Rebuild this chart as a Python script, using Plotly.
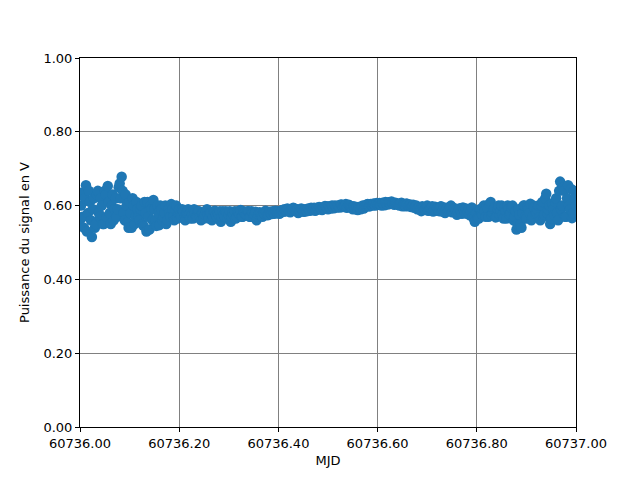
import plotly.graph_objects as go

mjd_start = 60736.0
step = 0.004
# readings on the main grid (every 0.004 d)
power_v = [
    0.56, 0.635, 0.54, 0.655, 0.58, 0.61, 0.515, 0.62, 0.55, 0.64,
    0.57, 0.60, 0.55, 0.63, 0.653, 0.58, 0.60, 0.56, 0.62, 0.59,
    0.66, 0.678, 0.58, 0.63, 0.555, 0.61, 0.54, 0.60, 0.57, 0.59,
    0.56, 0.60, 0.545, 0.58, 0.61, 0.535, 0.59, 0.615, 0.56, 0.60,
    0.547, 0.59, 0.57, 0.60, 0.56, 0.58, 0.604, 0.57, 0.59, 0.565,
    0.59, 0.57, 0.585, 0.56, 0.58, 0.575, 0.585, 0.565, 0.58, 0.57,
    0.585, 0.56, 0.58, 0.575, 0.59, 0.565, 0.58, 0.57, 0.586, 0.57,
    0.575, 0.556, 0.585, 0.57, 0.58, 0.575, 0.556, 0.58, 0.585, 0.57,
    0.58, 0.588, 0.57, 0.58, 0.575, 0.585, 0.57, 0.58, 0.575, 0.56,
    0.575, 0.58, 0.57, 0.578, 0.582, 0.575, 0.58, 0.585, 0.578, 0.583,
    0.585, 0.58, 0.588, 0.59, 0.585, 0.59, 0.582, 0.588, 0.592, 0.585,
    0.58, 0.585, 0.59, 0.583, 0.588, 0.592, 0.586, 0.59, 0.594, 0.588,
    0.59, 0.595, 0.588, 0.593, 0.598, 0.59, 0.595, 0.60, 0.593, 0.597,
    0.60, 0.595, 0.602, 0.598, 0.604, 0.596, 0.60, 0.594, 0.598, 0.59,
    0.588, 0.594, 0.598, 0.592, 0.60, 0.604, 0.598, 0.602, 0.606, 0.60,
    0.603, 0.607, 0.60, 0.605, 0.61, 0.603, 0.607, 0.611, 0.604, 0.608,
    0.605, 0.60, 0.608, 0.603, 0.598, 0.604, 0.60, 0.596, 0.602, 0.597,
    0.59, 0.596, 0.585, 0.594, 0.59, 0.60, 0.587, 0.593, 0.584, 0.597,
    0.592, 0.585, 0.598, 0.588, 0.58, 0.594, 0.589, 0.60, 0.583, 0.592,
    0.575, 0.59, 0.584, 0.595, 0.58, 0.578, 0.59, 0.585, 0.57, 0.556,
    0.58, 0.565, 0.59, 0.575, 0.585, 0.60, 0.57, 0.61, 0.58, 0.595,
    0.57, 0.60, 0.585, 0.575, 0.595, 0.565, 0.59, 0.58, 0.60, 0.57,
    0.535, 0.59, 0.55, 0.58, 0.60, 0.565, 0.59, 0.605, 0.57, 0.595,
    0.58, 0.60, 0.56, 0.61, 0.575, 0.632, 0.59, 0.55, 0.605, 0.575,
    0.62, 0.56, 0.665, 0.60, 0.64, 0.57, 0.655, 0.59, 0.566, 0.64,
    0.60,
]
# readings half-way between (offset 0.002 d)
power_v_mid = [
    0.60, 0.57, 0.62, 0.53, 0.64, 0.56, 0.59, 0.54, 0.63, 0.58,
    0.62, 0.55, 0.64, 0.57, 0.61, 0.55, 0.63, 0.59, 0.57, 0.65,
    0.62, 0.64, 0.56, 0.60, 0.54, 0.58, 0.62, 0.55, 0.61, 0.57,
    0.59, 0.55, 0.61, 0.53, 0.57, 0.60, 0.56, 0.59, 0.545, 0.58,
    0.60, 0.56, 0.58, 0.55, 0.59, 0.57, 0.59, 0.56, 0.60, 0.58,
    0.575, 0.59, 0.565, 0.58, 0.59, 0.565, 0.575, 0.59, 0.57, 0.585,
    0.57, 0.58, 0.565, 0.585, 0.575, 0.58, 0.56, 0.585, 0.575, 0.58,
    0.585, 0.57, 0.575, 0.585, 0.565, 0.585, 0.57, 0.575, 0.565, 0.585,
    0.575, 0.57, 0.585, 0.575, 0.585, 0.57, 0.585, 0.57, 0.583, 0.57,
    0.582, 0.573, 0.58, 0.586, 0.574, 0.583, 0.577, 0.58, 0.586, 0.58,
    0.578, 0.586, 0.583, 0.585, 0.592, 0.584, 0.589, 0.594, 0.586, 0.59,
    0.588, 0.592, 0.584, 0.59, 0.585, 0.588, 0.594, 0.589, 0.586, 0.594,
    0.596, 0.59, 0.594, 0.599, 0.592, 0.598, 0.592, 0.596, 0.60, 0.595,
    0.597, 0.603, 0.596, 0.60, 0.594, 0.602, 0.597, 0.59, 0.594, 0.596,
    0.596, 0.59, 0.60, 0.597, 0.603, 0.598, 0.604, 0.60, 0.603, 0.607,
    0.605, 0.602, 0.608, 0.601, 0.606, 0.609, 0.604, 0.607, 0.602, 0.605,
    0.602, 0.606, 0.598, 0.601, 0.606, 0.598, 0.603, 0.599, 0.594, 0.60,
    0.595, 0.589, 0.598, 0.588, 0.596, 0.586, 0.592, 0.598, 0.59, 0.586,
    0.588, 0.597, 0.584, 0.595, 0.59, 0.586, 0.596, 0.582, 0.593, 0.587,
    0.584, 0.593, 0.578, 0.588, 0.592, 0.583, 0.574, 0.595, 0.565, 0.58,
    0.568, 0.59, 0.578, 0.60, 0.57, 0.592, 0.605, 0.575, 0.59, 0.568,
    0.59, 0.575, 0.60, 0.565, 0.585, 0.60, 0.575, 0.595, 0.56, 0.585,
    0.55, 0.575, 0.54, 0.60, 0.57, 0.595, 0.58, 0.56, 0.60, 0.578,
    0.59, 0.568, 0.60, 0.57, 0.62, 0.58, 0.60, 0.565, 0.59, 0.61,
    0.58, 0.64, 0.59, 0.65, 0.57, 0.62, 0.60, 0.645, 0.58, 0.62,
]
mjd = [round(mjd_start + i * step, 4) for i in range(len(power_v))]
mjd_mid = [round(mjd_start + step / 2 + i * step, 4) for i in range(len(power_v_mid))]

xs = []
ys = []
for i in range(len(power_v)):
    xs.append(mjd[i]); ys.append(power_v[i])
    if i < len(power_v_mid):
        xs.append(mjd_mid[i]); ys.append(power_v_mid[i])

fig = go.Figure()
fig.add_trace(go.Scatter(
    x=xs, y=ys, mode="markers",
    marker=dict(color="#1f77b4", size=10.5, line=dict(width=0)),
    showlegend=False,
))

axis_common = dict(
    showline=True, linecolor="black", linewidth=1, mirror=True,
    ticks="outside", ticklen=4, tickcolor="black",
    showgrid=True, gridcolor="#808080", gridwidth=1,
    zeroline=False, tickformat=".2f", dtick=0.2,
    layer="above traces",
    tickfont=dict(family="DejaVu Sans", size=13, color="black"),
)

fig.update_layout(
    width=640, height=480,
    margin=dict(l=72, r=72, t=50, b=61),
    paper_bgcolor="white", plot_bgcolor="white",
    font=dict(family="DejaVu Sans", size=13, color="black"),
    xaxis=dict(range=[60736.0, 60737.0], tick0=60736.0,
               title=dict(text="MJD", standoff=6,
                          font=dict(family="DejaVu Sans", size=13, color="black")),
               **axis_common),
    yaxis=dict(range=[0, 1], tick0=0,
               title=dict(text="Puissance du signal en V", standoff=10,
                          font=dict(family="DejaVu Sans", size=13, color="black")),
               **axis_common),
)

fig.write_html("out.html")
